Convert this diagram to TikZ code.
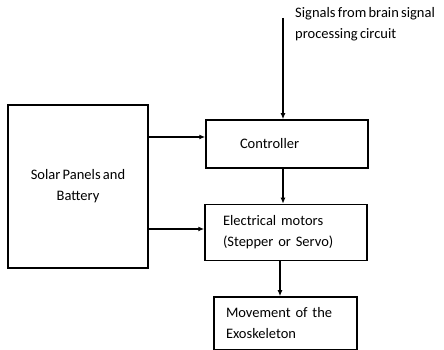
\documentclass[tikz,border=0pt]{standalone}
\usepackage{fontspec}
\setmainfont{Carlito}[WordSpace=0.7]
\usetikzlibrary{positioning,arrows.meta}

\begin{document}
\begin{tikzpicture}[x=1pt, y=1pt, node distance=35pt,
                   box/.style={draw, line width=1.5pt, font=\fontsize{14.5}{21}\selectfont},
                   leftbox/.style={box, align=left},
                   arr/.style={-{Latex[length=6pt,width=5pt]}, line width=1.4pt}]
    \useasboundingbox (0,0) rectangle (444,350);
    \node[box, minimum width=140pt, minimum height=163pt, align=center] (solar) at (78,163.5) {Solar Panels and\\Battery};
    \node[leftbox, minimum height=48pt, text width=94pt, inner xsep=34pt] (ctrl) at (287,206) {Controller};
    \node[leftbox, minimum height=56pt, text width=126pt, inner xsep=18pt, below=35pt of ctrl, xshift=-1pt] (motors) {Electrical motors\\(Stepper or Servo)};
    \node[leftbox, minimum height=53pt, text width=119pt, inner xsep=12pt, below=35pt of motors, xshift=-0.5pt] (move) {Movement of the\\Exoskeleton};
    \node[font=\fontsize{14.5}{21}\selectfont, align=left, anchor=north west, inner sep=0pt] (sigtxt) at (295,343) {Signals from brain signal\\processing circuit};
    \coordinate (sig) at (283,332);
    \coordinate (c1) at ([yshift=7pt]ctrl.west);
    \coordinate (c2) at ([xshift=-6pt]motors.south);
    \coordinate (c3) at ([yshift=3.5pt]motors.west);
    \draw[arr] (sig) -- (sig |- ctrl.north);
    \draw[arr] (ctrl.south -| sig) -- (motors.north -| sig);
    \draw[arr] (c2) -- (c2 |- move.north);
    \draw[arr] (solar.east |- c1) -- (c1);
    \draw[arr] (solar.east |- c3) -- (c3);
\end{tikzpicture}
\end{document}
